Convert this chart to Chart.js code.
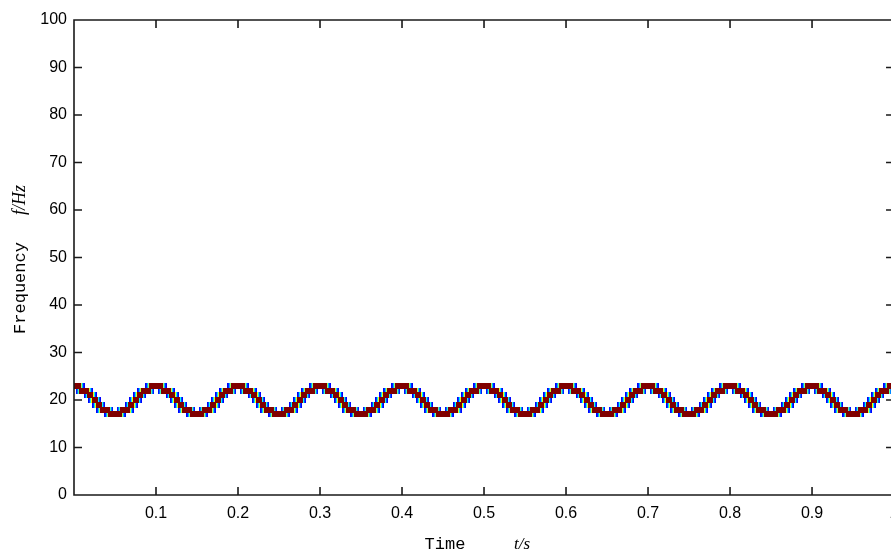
<!DOCTYPE html>
<html>
<head>
<meta charset="utf-8">
<script src="https://cdn.jsdelivr.net/npm/chart.js"></script>
<style>
  html, body { margin: 0; background: #fff; }
</style>
</head>
<body>
<canvas id="tfplot" width="891" height="552"></canvas>
<script>
// ridge frequency (Hz), one value every 5 ms from t = 0 to t = 1
const freq = [
  23,23,22,22,21,20,19,18,18,17,17,17,18,18,19,20,21,22,22,23,
  23,23,22,22,21,20,19,18,18,17,17,17,18,18,19,20,21,22,22,23,
  23,23,22,22,21,20,19,18,18,17,17,17,18,18,19,20,21,22,22,23,
  23,23,22,22,21,20,19,18,18,17,17,17,18,18,19,20,21,22,22,23,
  23,23,22,22,21,20,19,18,18,17,17,17,18,18,19,20,21,22,22,23,
  23,23,22,22,21,20,19,18,18,17,17,17,18,18,19,20,21,22,22,23,
  23,23,22,22,21,20,19,18,18,17,17,17,18,18,19,20,21,22,22,23,
  23,23,22,22,21,20,19,18,18,17,17,17,18,18,19,20,21,22,22,23,
  23,23,22,22,21,20,19,18,18,17,17,17,18,18,19,20,21,22,22,23,
  23,23,22,22,21,20,19,18,18,17,17,17,18,18,19,20,21,22,22,23,
  23
];
const dt = 0.005;
const times = freq.map((f, i) => +(i * dt).toFixed(3));

const xTicks = [0.1, 0.2, 0.3, 0.4, 0.5, 0.6, 0.7, 0.8, 0.9, 1];
const yTicks = [0, 10, 20, 30, 40, 50, 60, 70, 80, 90, 100];
const xEnd = 1;   // right edge of the axes box, just past the window

const pts = times.map((t, i) => ({ x: t, y: freq[i] }));

// little jet coloured cells used as point images
function cell(cols, h) {
  const c = document.createElement('canvas');
  c.width = cols.length; c.height = h;
  const g = c.getContext('2d');
  cols.forEach((col, i) => { g.fillStyle = col; g.fillRect(i, 0, 1, h); });
  return c;
}
const coreCell = cell(['#800000', '#800000', '#800000', '#800000', '#800000', '#800000'], 6);
const edgeCell = cell(['#0000ff', '#0040ff', '#00ffff', '#ffff00', '#ff0000', '#a00000', '#800000',
                       '#a00000', '#ff0000', '#ffff00', '#00ffff', '#0040ff', '#0000ff'], 6);

const frame = {
  id: 'frame',
  afterDraw(chart) {
    const ctx = chart.ctx;
    const xs = chart.scales.x, ys = chart.scales.y;
    const L = xs.getPixelForValue(0), R = xs.getPixelForValue(xEnd);
    const T = ys.getPixelForValue(100), B = ys.getPixelForValue(0);
    ctx.save();
    ctx.strokeStyle = '#1a1a1a';
    ctx.lineWidth = 1.6;
    ctx.beginPath();
    ctx.moveTo(R, T); ctx.lineTo(L, T); ctx.lineTo(L, B); ctx.lineTo(R, B); ctx.lineTo(R, T);
    xTicks.forEach(v => {
      const px = xs.getPixelForValue(v);
      ctx.moveTo(px, B); ctx.lineTo(px, B - 8);
      ctx.moveTo(px, T); ctx.lineTo(px, T + 8);
    });
    yTicks.forEach(v => {
      const py = ys.getPixelForValue(v);
      ctx.moveTo(L, py); ctx.lineTo(L + 8, py);
      ctx.moveTo(R, py); ctx.lineTo(R - 8, py);
    });
    ctx.stroke();

    // tick label of the last tick, which sits past the window edge
    ctx.fillStyle = '#000';
    ctx.font = '16px "Liberation Sans", Arial, sans-serif';
    ctx.textAlign = 'center';
    ctx.textBaseline = 'middle';
    ctx.fillText('1', R, 514);

    // axis titles
    ctx.font = '17px "Liberation Mono", monospace';
    ctx.textBaseline = 'alphabetic';
    ctx.fillText('Time', 445, 549);
    ctx.font = 'italic 17px "Liberation Serif", serif';
    ctx.fillText('t/s', 522, 549);

    ctx.translate(25, 288);
    ctx.rotate(-Math.PI / 2);
    ctx.font = '17px "Liberation Mono", monospace';
    ctx.fillText('Frequency', 0, 0);
    ctx.font = 'italic 18px "Liberation Serif", serif';
    ctx.fillText('f/Hz', 88, 0);
    ctx.restore();
  }
};

const sideClip = { left: 0, top: false, right: false, bottom: false };

new Chart(document.getElementById('tfplot'), {
  type: 'scatter',
  data: {
    datasets: [
      { label: 'ridge', data: pts, pointStyle: coreCell, pointRadius: 8, clip: sideClip, order: 0 },
      { label: 'ridge edge', data: pts, pointStyle: edgeCell, pointRadius: 8, clip: sideClip, order: 1 }
    ]
  },
  options: {
    responsive: false,
    animation: false,
    devicePixelRatio: 1,
    layout: { autoPadding: false, padding: { top: 20, left: 0, right: 0, bottom: 0 } },
    plugins: { legend: { display: false }, tooltip: { enabled: false } },
    scales: {
      x: {
        type: 'linear',
        min: 0,
        max: 0.9963,
        afterFit(s) { s.height = 57; s.paddingLeft = 0; s.paddingRight = 0; },
        afterBuildTicks(s) { s.ticks = xTicks.filter(v => v <= s.max).map(v => ({ value: v })); },
        grid: { display: false, drawTicks: false },
        border: { display: false },
        ticks: {
          padding: 9,
          color: '#000',
          font: { family: '"Liberation Sans", Arial, sans-serif', size: 16 },
          maxRotation: 0,
          callback: v => String(v)
        }
      },
      y: {
        type: 'linear',
        min: 0,
        max: 100,
        afterFit(s) { s.width = 74; },
        afterBuildTicks(s) { s.ticks = yTicks.map(v => ({ value: v })); },
        grid: { display: false, drawTicks: false },
        border: { display: false },
        ticks: {
          padding: 7,
          color: '#000',
          font: { family: '"Liberation Sans", Arial, sans-serif', size: 16 },
          callback: v => String(v)
        }
      }
    }
  },
  plugins: [frame]
});
</script>
</body>
</html>
